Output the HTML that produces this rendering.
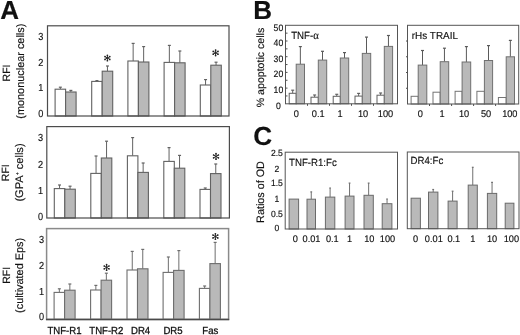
<!DOCTYPE html>
<html><head><meta charset="utf-8"><style>
html,body{margin:0;padding:0;background:#fff;}
body{width:520px;height:335px;overflow:hidden;}
svg{display:block;filter:blur(0.3px);}
text{font-family:"Liberation Sans",sans-serif;fill:#111;text-rendering:geometricPrecision;stroke:#111;stroke-width:0.15px;}
</style></head><body>
<svg width="520" height="335" viewBox="0 0 520 335">
<rect width="520" height="335" fill="#fff"/>
<text x="0.2" y="19.4" font-size="26" text-anchor="start" font-weight="bold" >A</text>
<line x1="60.35" y1="89.20" x2="60.35" y2="87.20" stroke="#626262" stroke-width="1"/>
<line x1="58.85" y1="87.20" x2="61.85" y2="87.20" stroke="#626262" stroke-width="1.2"/>
<rect x="55.10" y="89.20" width="10.50" height="26.80" fill="#fff" stroke="#626262" stroke-width="1.1"/>
<line x1="70.85" y1="92.00" x2="70.85" y2="90.40" stroke="#626262" stroke-width="1"/>
<line x1="69.35" y1="90.40" x2="72.35" y2="90.40" stroke="#626262" stroke-width="1.2"/>
<rect x="65.60" y="92.00" width="10.50" height="24.00" fill="#b9b9b9" stroke="#626262" stroke-width="1.1"/>
<line x1="96.95" y1="81.40" x2="96.95" y2="80.60" stroke="#626262" stroke-width="1"/>
<line x1="95.45" y1="80.60" x2="98.45" y2="80.60" stroke="#626262" stroke-width="1.2"/>
<rect x="91.70" y="81.40" width="10.50" height="34.60" fill="#fff" stroke="#626262" stroke-width="1.1"/>
<line x1="107.45" y1="71.20" x2="107.45" y2="66.00" stroke="#626262" stroke-width="1"/>
<line x1="105.95" y1="66.00" x2="108.95" y2="66.00" stroke="#626262" stroke-width="1.2"/>
<rect x="102.20" y="71.20" width="10.50" height="44.80" fill="#b9b9b9" stroke="#626262" stroke-width="1.1"/>
<line x1="133.15" y1="61.00" x2="133.15" y2="43.40" stroke="#626262" stroke-width="1"/>
<line x1="131.65" y1="43.40" x2="134.65" y2="43.40" stroke="#626262" stroke-width="1.2"/>
<rect x="127.90" y="61.00" width="10.50" height="55.00" fill="#fff" stroke="#626262" stroke-width="1.1"/>
<line x1="143.65" y1="62.00" x2="143.65" y2="46.60" stroke="#626262" stroke-width="1"/>
<line x1="142.15" y1="46.60" x2="145.15" y2="46.60" stroke="#626262" stroke-width="1.2"/>
<rect x="138.40" y="62.00" width="10.50" height="54.00" fill="#b9b9b9" stroke="#626262" stroke-width="1.1"/>
<line x1="169.35" y1="62.40" x2="169.35" y2="45.40" stroke="#626262" stroke-width="1"/>
<line x1="167.85" y1="45.40" x2="170.85" y2="45.40" stroke="#626262" stroke-width="1.2"/>
<rect x="164.10" y="62.40" width="10.50" height="53.60" fill="#fff" stroke="#626262" stroke-width="1.1"/>
<line x1="179.85" y1="62.80" x2="179.85" y2="51.00" stroke="#626262" stroke-width="1"/>
<line x1="178.35" y1="51.00" x2="181.35" y2="51.00" stroke="#626262" stroke-width="1.2"/>
<rect x="174.60" y="62.80" width="10.50" height="53.20" fill="#b9b9b9" stroke="#626262" stroke-width="1.1"/>
<line x1="205.55" y1="85.00" x2="205.55" y2="79.60" stroke="#626262" stroke-width="1"/>
<line x1="204.05" y1="79.60" x2="207.05" y2="79.60" stroke="#626262" stroke-width="1.2"/>
<rect x="200.30" y="85.00" width="10.50" height="31.00" fill="#fff" stroke="#626262" stroke-width="1.1"/>
<line x1="216.05" y1="65.20" x2="216.05" y2="62.20" stroke="#626262" stroke-width="1"/>
<line x1="214.55" y1="62.20" x2="217.55" y2="62.20" stroke="#626262" stroke-width="1.2"/>
<rect x="210.80" y="65.20" width="10.50" height="50.80" fill="#b9b9b9" stroke="#626262" stroke-width="1.1"/>
<rect x="47.5" y="25.8" width="181.50" height="90.20" fill="none" stroke="#4c4c4c" stroke-width="1.2"/>
<line x1="107.40" y1="55.00" x2="107.40" y2="61.00" stroke="#222" stroke-width="0.95"/>
<circle cx="107.40" cy="60.76" r="0.85" fill="#222"/>
<circle cx="107.40" cy="55.24" r="0.85" fill="#222"/>
<line x1="104.80" y1="56.50" x2="110.00" y2="59.50" stroke="#222" stroke-width="0.95"/>
<circle cx="109.79" cy="59.38" r="0.85" fill="#222"/>
<circle cx="105.01" cy="56.62" r="0.85" fill="#222"/>
<line x1="110.00" y1="56.50" x2="104.80" y2="59.50" stroke="#222" stroke-width="0.95"/>
<circle cx="105.01" cy="59.38" r="0.85" fill="#222"/>
<circle cx="109.79" cy="56.62" r="0.85" fill="#222"/>
<line x1="215.60" y1="49.80" x2="215.60" y2="55.80" stroke="#222" stroke-width="0.95"/>
<circle cx="215.60" cy="55.56" r="0.85" fill="#222"/>
<circle cx="215.60" cy="50.04" r="0.85" fill="#222"/>
<line x1="213.00" y1="51.30" x2="218.20" y2="54.30" stroke="#222" stroke-width="0.95"/>
<circle cx="217.99" cy="54.18" r="0.85" fill="#222"/>
<circle cx="213.21" cy="51.42" r="0.85" fill="#222"/>
<line x1="218.20" y1="51.30" x2="213.00" y2="54.30" stroke="#222" stroke-width="0.95"/>
<circle cx="213.21" cy="54.18" r="0.85" fill="#222"/>
<circle cx="217.99" cy="51.42" r="0.85" fill="#222"/>
<text x="0" y="0" transform="translate(43.4,39.6) scale(0.9,1)" font-size="10.2" text-anchor="end" font-weight="normal" >3</text>
<text x="0" y="0" transform="translate(43.4,65.8) scale(0.9,1)" font-size="10.2" text-anchor="end" font-weight="normal" >2</text>
<text x="0" y="0" transform="translate(43.4,91.2) scale(0.9,1)" font-size="10.2" text-anchor="end" font-weight="normal" >1</text>
<text x="0" y="0" transform="translate(43.4,116.6) scale(0.9,1)" font-size="10.2" text-anchor="end" font-weight="normal" >0</text>
<line x1="59.55" y1="188.60" x2="59.55" y2="185.00" stroke="#626262" stroke-width="1"/>
<line x1="58.05" y1="185.00" x2="61.05" y2="185.00" stroke="#626262" stroke-width="1.2"/>
<rect x="54.30" y="188.60" width="10.50" height="29.40" fill="#fff" stroke="#626262" stroke-width="1.1"/>
<line x1="70.05" y1="189.20" x2="70.05" y2="186.20" stroke="#626262" stroke-width="1"/>
<line x1="68.55" y1="186.20" x2="71.55" y2="186.20" stroke="#626262" stroke-width="1.2"/>
<rect x="64.80" y="189.20" width="10.50" height="28.80" fill="#b9b9b9" stroke="#626262" stroke-width="1.1"/>
<line x1="96.05" y1="173.40" x2="96.05" y2="156.00" stroke="#626262" stroke-width="1"/>
<line x1="94.55" y1="156.00" x2="97.55" y2="156.00" stroke="#626262" stroke-width="1.2"/>
<rect x="90.80" y="173.40" width="10.50" height="44.60" fill="#fff" stroke="#626262" stroke-width="1.1"/>
<line x1="106.55" y1="158.00" x2="106.55" y2="141.20" stroke="#626262" stroke-width="1"/>
<line x1="105.05" y1="141.20" x2="108.05" y2="141.20" stroke="#626262" stroke-width="1.2"/>
<rect x="101.30" y="158.00" width="10.50" height="60.00" fill="#b9b9b9" stroke="#626262" stroke-width="1.1"/>
<line x1="132.65" y1="155.80" x2="132.65" y2="137.60" stroke="#626262" stroke-width="1"/>
<line x1="131.15" y1="137.60" x2="134.15" y2="137.60" stroke="#626262" stroke-width="1.2"/>
<rect x="127.40" y="155.80" width="10.50" height="62.20" fill="#fff" stroke="#626262" stroke-width="1.1"/>
<line x1="143.15" y1="172.40" x2="143.15" y2="163.00" stroke="#626262" stroke-width="1"/>
<line x1="141.65" y1="163.00" x2="144.65" y2="163.00" stroke="#626262" stroke-width="1.2"/>
<rect x="137.90" y="172.40" width="10.50" height="45.60" fill="#b9b9b9" stroke="#626262" stroke-width="1.1"/>
<line x1="169.05" y1="161.40" x2="169.05" y2="147.60" stroke="#626262" stroke-width="1"/>
<line x1="167.55" y1="147.60" x2="170.55" y2="147.60" stroke="#626262" stroke-width="1.2"/>
<rect x="163.80" y="161.40" width="10.50" height="56.60" fill="#fff" stroke="#626262" stroke-width="1.1"/>
<line x1="179.55" y1="168.20" x2="179.55" y2="155.40" stroke="#626262" stroke-width="1"/>
<line x1="178.05" y1="155.40" x2="181.05" y2="155.40" stroke="#626262" stroke-width="1.2"/>
<rect x="174.30" y="168.20" width="10.50" height="49.80" fill="#b9b9b9" stroke="#626262" stroke-width="1.1"/>
<line x1="205.25" y1="189.40" x2="205.25" y2="188.00" stroke="#626262" stroke-width="1"/>
<line x1="203.75" y1="188.00" x2="206.75" y2="188.00" stroke="#626262" stroke-width="1.2"/>
<rect x="200.00" y="189.40" width="10.50" height="28.60" fill="#fff" stroke="#626262" stroke-width="1.1"/>
<line x1="215.75" y1="173.60" x2="215.75" y2="164.00" stroke="#626262" stroke-width="1"/>
<line x1="214.25" y1="164.00" x2="217.25" y2="164.00" stroke="#626262" stroke-width="1.2"/>
<rect x="210.50" y="173.60" width="10.50" height="44.40" fill="#b9b9b9" stroke="#626262" stroke-width="1.1"/>
<rect x="46.8" y="126.6" width="182.60" height="91.40" fill="none" stroke="#4c4c4c" stroke-width="1.2"/>
<line x1="216.00" y1="153.40" x2="216.00" y2="159.40" stroke="#222" stroke-width="0.95"/>
<circle cx="216.00" cy="159.16" r="0.85" fill="#222"/>
<circle cx="216.00" cy="153.64" r="0.85" fill="#222"/>
<line x1="213.40" y1="154.90" x2="218.60" y2="157.90" stroke="#222" stroke-width="0.95"/>
<circle cx="218.39" cy="157.78" r="0.85" fill="#222"/>
<circle cx="213.61" cy="155.02" r="0.85" fill="#222"/>
<line x1="218.60" y1="154.90" x2="213.40" y2="157.90" stroke="#222" stroke-width="0.95"/>
<circle cx="213.61" cy="157.78" r="0.85" fill="#222"/>
<circle cx="218.39" cy="155.02" r="0.85" fill="#222"/>
<text x="0" y="0" transform="translate(43.2,141.2) scale(0.9,1)" font-size="10.2" text-anchor="end" font-weight="normal" >3</text>
<text x="0" y="0" transform="translate(43.2,167.7) scale(0.9,1)" font-size="10.2" text-anchor="end" font-weight="normal" >2</text>
<text x="0" y="0" transform="translate(43.2,193.6) scale(0.9,1)" font-size="10.2" text-anchor="end" font-weight="normal" >1</text>
<text x="0" y="0" transform="translate(43.2,219.6) scale(0.9,1)" font-size="10.2" text-anchor="end" font-weight="normal" >0</text>
<line x1="59.35" y1="292.40" x2="59.35" y2="288.80" stroke="#6e6e6e" stroke-width="1"/>
<line x1="57.85" y1="288.80" x2="60.85" y2="288.80" stroke="#6e6e6e" stroke-width="1.2"/>
<rect x="54.10" y="292.40" width="10.50" height="27.00" fill="#fff" stroke="#6e6e6e" stroke-width="1.1"/>
<line x1="69.85" y1="290.20" x2="69.85" y2="284.00" stroke="#6e6e6e" stroke-width="1"/>
<line x1="68.35" y1="284.00" x2="71.35" y2="284.00" stroke="#6e6e6e" stroke-width="1.2"/>
<rect x="64.60" y="290.20" width="10.50" height="29.20" fill="#b9b9b9" stroke="#6e6e6e" stroke-width="1.1"/>
<line x1="95.85" y1="290.00" x2="95.85" y2="285.40" stroke="#6e6e6e" stroke-width="1"/>
<line x1="94.35" y1="285.40" x2="97.35" y2="285.40" stroke="#6e6e6e" stroke-width="1.2"/>
<rect x="90.60" y="290.00" width="10.50" height="29.40" fill="#fff" stroke="#6e6e6e" stroke-width="1.1"/>
<line x1="106.35" y1="280.20" x2="106.35" y2="273.20" stroke="#6e6e6e" stroke-width="1"/>
<line x1="104.85" y1="273.20" x2="107.85" y2="273.20" stroke="#6e6e6e" stroke-width="1.2"/>
<rect x="101.10" y="280.20" width="10.50" height="39.20" fill="#b9b9b9" stroke="#6e6e6e" stroke-width="1.1"/>
<line x1="132.25" y1="270.00" x2="132.25" y2="251.40" stroke="#6e6e6e" stroke-width="1"/>
<line x1="130.75" y1="251.40" x2="133.75" y2="251.40" stroke="#6e6e6e" stroke-width="1.2"/>
<rect x="127.00" y="270.00" width="10.50" height="49.40" fill="#fff" stroke="#6e6e6e" stroke-width="1.1"/>
<line x1="142.75" y1="268.80" x2="142.75" y2="249.40" stroke="#6e6e6e" stroke-width="1"/>
<line x1="141.25" y1="249.40" x2="144.25" y2="249.40" stroke="#6e6e6e" stroke-width="1.2"/>
<rect x="137.50" y="268.80" width="10.50" height="50.60" fill="#b9b9b9" stroke="#6e6e6e" stroke-width="1.1"/>
<line x1="168.35" y1="272.40" x2="168.35" y2="257.00" stroke="#6e6e6e" stroke-width="1"/>
<line x1="166.85" y1="257.00" x2="169.85" y2="257.00" stroke="#6e6e6e" stroke-width="1.2"/>
<rect x="163.10" y="272.40" width="10.50" height="47.00" fill="#fff" stroke="#6e6e6e" stroke-width="1.1"/>
<line x1="178.85" y1="270.40" x2="178.85" y2="250.60" stroke="#6e6e6e" stroke-width="1"/>
<line x1="177.35" y1="250.60" x2="180.35" y2="250.60" stroke="#6e6e6e" stroke-width="1.2"/>
<rect x="173.60" y="270.40" width="10.50" height="49.00" fill="#b9b9b9" stroke="#6e6e6e" stroke-width="1.1"/>
<line x1="204.65" y1="288.40" x2="204.65" y2="286.00" stroke="#6e6e6e" stroke-width="1"/>
<line x1="203.15" y1="286.00" x2="206.15" y2="286.00" stroke="#6e6e6e" stroke-width="1.2"/>
<rect x="199.40" y="288.40" width="10.50" height="31.00" fill="#fff" stroke="#6e6e6e" stroke-width="1.1"/>
<line x1="215.15" y1="263.60" x2="215.15" y2="242.40" stroke="#6e6e6e" stroke-width="1"/>
<line x1="213.65" y1="242.40" x2="216.65" y2="242.40" stroke="#6e6e6e" stroke-width="1.2"/>
<rect x="209.90" y="263.60" width="10.50" height="55.80" fill="#b9b9b9" stroke="#6e6e6e" stroke-width="1.1"/>
<rect x="46.6" y="228.6" width="182.00" height="90.80" fill="none" stroke="#8a8a8a" stroke-width="1.5"/>
<line x1="46.0" y1="319.5" x2="229.2" y2="319.5" stroke="#4a4a4a" stroke-width="1.5"/>
<line x1="106.60" y1="264.40" x2="106.60" y2="270.40" stroke="#222" stroke-width="0.95"/>
<circle cx="106.60" cy="270.16" r="0.85" fill="#222"/>
<circle cx="106.60" cy="264.64" r="0.85" fill="#222"/>
<line x1="104.00" y1="265.90" x2="109.20" y2="268.90" stroke="#222" stroke-width="0.95"/>
<circle cx="108.99" cy="268.78" r="0.85" fill="#222"/>
<circle cx="104.21" cy="266.02" r="0.85" fill="#222"/>
<line x1="109.20" y1="265.90" x2="104.00" y2="268.90" stroke="#222" stroke-width="0.95"/>
<circle cx="104.21" cy="268.78" r="0.85" fill="#222"/>
<circle cx="108.99" cy="266.02" r="0.85" fill="#222"/>
<line x1="215.40" y1="233.50" x2="215.40" y2="239.50" stroke="#222" stroke-width="0.95"/>
<circle cx="215.40" cy="239.26" r="0.85" fill="#222"/>
<circle cx="215.40" cy="233.74" r="0.85" fill="#222"/>
<line x1="212.80" y1="235.00" x2="218.00" y2="238.00" stroke="#222" stroke-width="0.95"/>
<circle cx="217.79" cy="237.88" r="0.85" fill="#222"/>
<circle cx="213.01" cy="235.12" r="0.85" fill="#222"/>
<line x1="218.00" y1="235.00" x2="212.80" y2="238.00" stroke="#222" stroke-width="0.95"/>
<circle cx="213.01" cy="237.88" r="0.85" fill="#222"/>
<circle cx="217.79" cy="235.12" r="0.85" fill="#222"/>
<text x="0" y="0" transform="translate(44.0,243.3) scale(0.9,1)" font-size="10.2" text-anchor="end" font-weight="normal" >3</text>
<text x="0" y="0" transform="translate(44.0,268.7) scale(0.9,1)" font-size="10.2" text-anchor="end" font-weight="normal" >2</text>
<text x="0" y="0" transform="translate(44.0,294.6) scale(0.9,1)" font-size="10.2" text-anchor="end" font-weight="normal" >1</text>
<text x="0" y="0" transform="translate(44.0,320.2) scale(0.9,1)" font-size="10.2" text-anchor="end" font-weight="normal" >0</text>
<text x="0" y="0" font-size="10.5" text-anchor="middle" transform="translate(10.2,73.0) rotate(-90)" >RFI</text>
<text x="0" y="0" font-size="10.9" text-anchor="middle" transform="translate(23.9,71.2) rotate(-90)" >(mononuclear cells)</text>
<text x="0" y="0" font-size="10.5" text-anchor="middle" transform="translate(9.3,172.7) rotate(-90)" >RFI</text>
<text x="0" y="0" font-size="11.1" text-anchor="middle" transform="translate(23.0,172.5) rotate(-90)" >(GPA<tspan font-size="5" dy="-4.5">+</tspan><tspan dy="4.5"> cells)</tspan></text>
<text x="0" y="0" font-size="10.5" text-anchor="middle" transform="translate(9.5,275.3) rotate(-90)" >RFI</text>
<text x="0" y="0" font-size="10.9" text-anchor="middle" transform="translate(23.4,275.4) rotate(-90)" >(cultivated Eps)</text>
<text x="0" y="0" transform="translate(64.5,334.2) scale(0.93,1)" font-size="10.3" text-anchor="middle" font-weight="normal" style="stroke-width:0.3px">TNF-R1</text>
<text x="0" y="0" transform="translate(106.3,334.2) scale(0.93,1)" font-size="10.3" text-anchor="middle" font-weight="normal" style="stroke-width:0.3px">TNF-R2</text>
<text x="0" y="0" transform="translate(140.6,334.2) scale(0.93,1)" font-size="10.3" text-anchor="middle" font-weight="normal" style="stroke-width:0.3px">DR4</text>
<text x="0" y="0" transform="translate(173.0,334.2) scale(0.93,1)" font-size="10.3" text-anchor="middle" font-weight="normal" style="stroke-width:0.3px">DR5</text>
<text x="0" y="0" transform="translate(210.3,334.2) scale(0.93,1)" font-size="10.3" text-anchor="middle" font-weight="normal" style="stroke-width:0.3px">Fas</text>
<text x="253.3" y="19.3" font-size="26" text-anchor="start" font-weight="bold" >B</text>
<line x1="292.70" y1="93.30" x2="292.70" y2="90.20" stroke="#606060" stroke-width="1"/>
<line x1="291.20" y1="90.20" x2="294.20" y2="90.20" stroke="#606060" stroke-width="1.2"/>
<rect x="289.20" y="93.30" width="7.00" height="10.50" fill="#fff" stroke="#606060" stroke-width="1.0"/>
<line x1="300.35" y1="64.20" x2="300.35" y2="46.60" stroke="#5a5a5a" stroke-width="1"/>
<line x1="298.85" y1="46.60" x2="301.85" y2="46.60" stroke="#5a5a5a" stroke-width="1.2"/>
<rect x="296.20" y="64.20" width="8.30" height="39.60" fill="#b9b9b9" stroke="#707070" stroke-width="1.0"/>
<line x1="314.65" y1="97.20" x2="314.65" y2="95.00" stroke="#606060" stroke-width="1"/>
<line x1="313.15" y1="95.00" x2="316.15" y2="95.00" stroke="#606060" stroke-width="1.2"/>
<rect x="311.00" y="97.20" width="7.30" height="6.60" fill="#fff" stroke="#606060" stroke-width="1.0"/>
<line x1="322.50" y1="60.10" x2="322.50" y2="51.30" stroke="#5a5a5a" stroke-width="1"/>
<line x1="321.00" y1="51.30" x2="324.00" y2="51.30" stroke="#5a5a5a" stroke-width="1.2"/>
<rect x="318.30" y="60.10" width="8.40" height="43.70" fill="#b9b9b9" stroke="#707070" stroke-width="1.0"/>
<line x1="336.75" y1="96.30" x2="336.75" y2="94.30" stroke="#606060" stroke-width="1"/>
<line x1="335.25" y1="94.30" x2="338.25" y2="94.30" stroke="#606060" stroke-width="1.2"/>
<rect x="333.20" y="96.30" width="7.10" height="7.50" fill="#fff" stroke="#606060" stroke-width="1.0"/>
<line x1="344.50" y1="58.00" x2="344.50" y2="52.60" stroke="#5a5a5a" stroke-width="1"/>
<line x1="343.00" y1="52.60" x2="346.00" y2="52.60" stroke="#5a5a5a" stroke-width="1.2"/>
<rect x="340.30" y="58.00" width="8.40" height="45.80" fill="#b9b9b9" stroke="#707070" stroke-width="1.0"/>
<line x1="358.65" y1="96.10" x2="358.65" y2="93.40" stroke="#606060" stroke-width="1"/>
<line x1="357.15" y1="93.40" x2="360.15" y2="93.40" stroke="#606060" stroke-width="1.2"/>
<rect x="355.00" y="96.10" width="7.30" height="7.70" fill="#fff" stroke="#606060" stroke-width="1.0"/>
<line x1="366.50" y1="53.40" x2="366.50" y2="37.10" stroke="#5a5a5a" stroke-width="1"/>
<line x1="365.00" y1="37.10" x2="368.00" y2="37.10" stroke="#5a5a5a" stroke-width="1.2"/>
<rect x="362.30" y="53.40" width="8.40" height="50.40" fill="#b9b9b9" stroke="#707070" stroke-width="1.0"/>
<line x1="380.65" y1="95.20" x2="380.65" y2="93.00" stroke="#606060" stroke-width="1"/>
<line x1="379.15" y1="93.00" x2="382.15" y2="93.00" stroke="#606060" stroke-width="1.2"/>
<rect x="377.00" y="95.20" width="7.30" height="8.60" fill="#fff" stroke="#606060" stroke-width="1.0"/>
<line x1="388.45" y1="46.40" x2="388.45" y2="35.50" stroke="#5a5a5a" stroke-width="1"/>
<line x1="386.95" y1="35.50" x2="389.95" y2="35.50" stroke="#5a5a5a" stroke-width="1.2"/>
<rect x="384.30" y="46.40" width="8.30" height="57.40" fill="#b9b9b9" stroke="#707070" stroke-width="1.0"/>
<rect x="285.5" y="25.3" width="112.00" height="78.50" fill="none" stroke="#555" stroke-width="1.0"/>
<rect x="411.10" y="96.30" width="7.10" height="7.70" fill="#fff" stroke="#747474" stroke-width="1.0"/>
<line x1="422.50" y1="65.10" x2="422.50" y2="50.50" stroke="#5a5a5a" stroke-width="1"/>
<line x1="421.00" y1="50.50" x2="424.00" y2="50.50" stroke="#5a5a5a" stroke-width="1.2"/>
<rect x="418.20" y="65.10" width="8.60" height="38.90" fill="#b9b9b9" stroke="#707070" stroke-width="1.0"/>
<rect x="433.00" y="92.20" width="7.20" height="11.80" fill="#fff" stroke="#747474" stroke-width="1.0"/>
<line x1="444.45" y1="61.70" x2="444.45" y2="48.20" stroke="#5a5a5a" stroke-width="1"/>
<line x1="442.95" y1="48.20" x2="445.95" y2="48.20" stroke="#5a5a5a" stroke-width="1.2"/>
<rect x="440.20" y="61.70" width="8.50" height="42.30" fill="#b9b9b9" stroke="#707070" stroke-width="1.0"/>
<rect x="455.10" y="91.30" width="7.00" height="12.70" fill="#fff" stroke="#747474" stroke-width="1.0"/>
<line x1="466.40" y1="62.00" x2="466.40" y2="46.60" stroke="#5a5a5a" stroke-width="1"/>
<line x1="464.90" y1="46.60" x2="467.90" y2="46.60" stroke="#5a5a5a" stroke-width="1.2"/>
<rect x="462.10" y="62.00" width="8.60" height="42.00" fill="#b9b9b9" stroke="#707070" stroke-width="1.0"/>
<rect x="476.90" y="91.30" width="7.50" height="12.70" fill="#fff" stroke="#747474" stroke-width="1.0"/>
<line x1="488.50" y1="60.50" x2="488.50" y2="45.60" stroke="#5a5a5a" stroke-width="1"/>
<line x1="487.00" y1="45.60" x2="490.00" y2="45.60" stroke="#5a5a5a" stroke-width="1.2"/>
<rect x="484.40" y="60.50" width="8.20" height="43.50" fill="#b9b9b9" stroke="#707070" stroke-width="1.0"/>
<rect x="498.40" y="97.50" width="7.80" height="6.50" fill="#fff" stroke="#747474" stroke-width="1.0"/>
<line x1="510.35" y1="56.80" x2="510.35" y2="40.40" stroke="#5a5a5a" stroke-width="1"/>
<line x1="508.85" y1="40.40" x2="511.85" y2="40.40" stroke="#5a5a5a" stroke-width="1.2"/>
<rect x="506.20" y="56.80" width="8.30" height="47.20" fill="#b9b9b9" stroke="#707070" stroke-width="1.0"/>
<rect x="407.5" y="25.3" width="111.20" height="78.70" fill="none" stroke="#555" stroke-width="1.0"/>
<line x1="285.5" y1="33.15" x2="287.5" y2="33.15" stroke="#505050" stroke-width="1"/>
<line x1="285.5" y1="41.00" x2="287.5" y2="41.00" stroke="#505050" stroke-width="1"/>
<line x1="285.5" y1="48.85" x2="287.5" y2="48.85" stroke="#505050" stroke-width="1"/>
<line x1="285.5" y1="56.70" x2="287.5" y2="56.70" stroke="#505050" stroke-width="1"/>
<line x1="285.5" y1="64.55" x2="287.5" y2="64.55" stroke="#505050" stroke-width="1"/>
<line x1="285.5" y1="72.40" x2="287.5" y2="72.40" stroke="#505050" stroke-width="1"/>
<line x1="285.5" y1="80.25" x2="287.5" y2="80.25" stroke="#505050" stroke-width="1"/>
<line x1="285.5" y1="88.10" x2="287.5" y2="88.10" stroke="#505050" stroke-width="1"/>
<line x1="285.5" y1="95.95" x2="287.5" y2="95.95" stroke="#505050" stroke-width="1"/>
<line x1="307.50" y1="103.8" x2="307.50" y2="105.8" stroke="#505050" stroke-width="1"/>
<line x1="329.50" y1="103.8" x2="329.50" y2="105.8" stroke="#505050" stroke-width="1"/>
<line x1="351.50" y1="103.8" x2="351.50" y2="105.8" stroke="#505050" stroke-width="1"/>
<line x1="373.50" y1="103.8" x2="373.50" y2="105.8" stroke="#505050" stroke-width="1"/>
<line x1="406.0" y1="41.04" x2="407.5" y2="41.04" stroke="#505050" stroke-width="1"/>
<line x1="406.0" y1="56.78" x2="407.5" y2="56.78" stroke="#505050" stroke-width="1"/>
<line x1="406.0" y1="72.52" x2="407.5" y2="72.52" stroke="#505050" stroke-width="1"/>
<line x1="406.0" y1="88.26" x2="407.5" y2="88.26" stroke="#505050" stroke-width="1"/>
<line x1="429.50" y1="104.0" x2="429.50" y2="106.0" stroke="#505050" stroke-width="1"/>
<line x1="451.60" y1="104.0" x2="451.60" y2="106.0" stroke="#505050" stroke-width="1"/>
<line x1="473.60" y1="104.0" x2="473.60" y2="106.0" stroke="#505050" stroke-width="1"/>
<line x1="495.60" y1="104.0" x2="495.60" y2="106.0" stroke="#505050" stroke-width="1"/>
<text x="0" y="0" transform="translate(278.4,30.5) scale(0.93,1)" font-size="9.3" text-anchor="middle" font-weight="normal" >50</text>
<text x="0" y="0" transform="translate(278.4,45.95) scale(0.93,1)" font-size="9.3" text-anchor="middle" font-weight="normal" >40</text>
<text x="0" y="0" transform="translate(278.4,61.7) scale(0.93,1)" font-size="9.3" text-anchor="middle" font-weight="normal" >30</text>
<text x="0" y="0" transform="translate(278.4,77.4) scale(0.93,1)" font-size="9.3" text-anchor="middle" font-weight="normal" >20</text>
<text x="0" y="0" transform="translate(278.4,93.1) scale(0.93,1)" font-size="9.3" text-anchor="middle" font-weight="normal" >10</text>
<text x="0" y="0" transform="translate(278.4,108.7) scale(0.93,1)" font-size="9.3" text-anchor="middle" font-weight="normal" >0</text>
<text x="0" y="0" font-size="10.6" text-anchor="middle" transform="translate(263.6,67.5) rotate(-90)" >% apoptotic cells</text>
<text x="0" y="0" transform="translate(291.2,38.6) scale(0.93,1)" font-size="10.4" text-anchor="start" font-weight="normal" >TNF-<tspan font-family="Liberation Serif" font-size="11.5">&#945;</tspan></text>
<text x="0" y="0" transform="translate(411.8,39.1) scale(0.975,1)" font-size="10.2" text-anchor="start" font-weight="normal" >rHs TRAIL</text>
<text x="0" y="0" transform="translate(296.4,117.2) scale(0.95,1)" font-size="9.7" text-anchor="middle" font-weight="normal" >0</text>
<text x="0" y="0" transform="translate(318.2,117.2) scale(0.95,1)" font-size="9.7" text-anchor="middle" font-weight="normal" >0.1</text>
<text x="0" y="0" transform="translate(340.0,117.2) scale(0.95,1)" font-size="9.7" text-anchor="middle" font-weight="normal" >1</text>
<text x="0" y="0" transform="translate(363.0,117.2) scale(0.95,1)" font-size="9.7" text-anchor="middle" font-weight="normal" >10</text>
<text x="0" y="0" transform="translate(385.5,117.2) scale(0.95,1)" font-size="9.7" text-anchor="middle" font-weight="normal" >100</text>
<text x="0" y="0" transform="translate(420.4,117.2) scale(0.95,1)" font-size="9.7" text-anchor="middle" font-weight="normal" >0</text>
<text x="0" y="0" transform="translate(442.0,117.2) scale(0.95,1)" font-size="9.7" text-anchor="middle" font-weight="normal" >1</text>
<text x="0" y="0" transform="translate(464.0,117.2) scale(0.95,1)" font-size="9.7" text-anchor="middle" font-weight="normal" >10</text>
<text x="0" y="0" transform="translate(486.1,117.2) scale(0.95,1)" font-size="9.7" text-anchor="middle" font-weight="normal" >50</text>
<text x="0" y="0" transform="translate(509.8,117.2) scale(0.95,1)" font-size="9.7" text-anchor="middle" font-weight="normal" >100</text>
<text x="253.3" y="145.3" font-size="26" text-anchor="start" font-weight="bold" >C</text>
<rect x="289.10" y="199.10" width="9.50" height="29.90" fill="#b9b9b9" stroke="#6a6a6a" stroke-width="1.0"/>
<line x1="311.25" y1="199.20" x2="311.25" y2="191.90" stroke="#707070" stroke-width="1"/>
<line x1="310.35" y1="191.90" x2="312.15" y2="191.90" stroke="#707070" stroke-width="1.2"/>
<rect x="307.00" y="199.20" width="8.50" height="29.80" fill="#b9b9b9" stroke="#6a6a6a" stroke-width="1.0"/>
<line x1="330.10" y1="197.10" x2="330.10" y2="188.00" stroke="#707070" stroke-width="1"/>
<line x1="329.20" y1="188.00" x2="331.00" y2="188.00" stroke="#707070" stroke-width="1.2"/>
<rect x="325.40" y="197.10" width="9.40" height="31.90" fill="#b9b9b9" stroke="#6a6a6a" stroke-width="1.0"/>
<line x1="349.55" y1="196.10" x2="349.55" y2="183.10" stroke="#707070" stroke-width="1"/>
<line x1="348.65" y1="183.10" x2="350.45" y2="183.10" stroke="#707070" stroke-width="1.2"/>
<rect x="345.10" y="196.10" width="8.90" height="32.90" fill="#b9b9b9" stroke="#6a6a6a" stroke-width="1.0"/>
<line x1="368.65" y1="195.30" x2="368.65" y2="183.10" stroke="#707070" stroke-width="1"/>
<line x1="367.75" y1="183.10" x2="369.55" y2="183.10" stroke="#707070" stroke-width="1.2"/>
<rect x="364.00" y="195.30" width="9.30" height="33.70" fill="#b9b9b9" stroke="#6a6a6a" stroke-width="1.0"/>
<line x1="387.05" y1="203.70" x2="387.05" y2="199.00" stroke="#707070" stroke-width="1"/>
<line x1="386.15" y1="199.00" x2="387.95" y2="199.00" stroke="#707070" stroke-width="1.2"/>
<rect x="382.20" y="203.70" width="9.70" height="25.30" fill="#b9b9b9" stroke="#6a6a6a" stroke-width="1.0"/>
<rect x="285.2" y="152.2" width="112.30" height="76.80" fill="none" stroke="#555" stroke-width="1.0"/>
<rect x="411.10" y="198.20" width="9.30" height="30.50" fill="#b9b9b9" stroke="#6a6a6a" stroke-width="1.0"/>
<line x1="433.20" y1="192.10" x2="433.20" y2="189.50" stroke="#707070" stroke-width="1"/>
<line x1="432.30" y1="189.50" x2="434.10" y2="189.50" stroke="#707070" stroke-width="1.2"/>
<rect x="428.50" y="192.10" width="9.40" height="36.60" fill="#b9b9b9" stroke="#6a6a6a" stroke-width="1.0"/>
<line x1="452.60" y1="201.10" x2="452.60" y2="191.20" stroke="#707070" stroke-width="1"/>
<line x1="451.70" y1="191.20" x2="453.50" y2="191.20" stroke="#707070" stroke-width="1.2"/>
<rect x="448.10" y="201.10" width="9.00" height="27.60" fill="#b9b9b9" stroke="#6a6a6a" stroke-width="1.0"/>
<line x1="472.75" y1="185.10" x2="472.75" y2="167.30" stroke="#707070" stroke-width="1"/>
<line x1="471.85" y1="167.30" x2="473.65" y2="167.30" stroke="#707070" stroke-width="1.2"/>
<rect x="468.20" y="185.10" width="9.10" height="43.60" fill="#b9b9b9" stroke="#6a6a6a" stroke-width="1.0"/>
<line x1="492.05" y1="193.40" x2="492.05" y2="182.30" stroke="#707070" stroke-width="1"/>
<line x1="491.15" y1="182.30" x2="492.95" y2="182.30" stroke="#707070" stroke-width="1.2"/>
<rect x="487.40" y="193.40" width="9.30" height="35.30" fill="#b9b9b9" stroke="#6a6a6a" stroke-width="1.0"/>
<rect x="505.20" y="203.20" width="8.70" height="25.50" fill="#b9b9b9" stroke="#6a6a6a" stroke-width="1.0"/>
<rect x="407.3" y="152.0" width="111.70" height="76.70" fill="none" stroke="#555" stroke-width="1.0"/>
<text x="0" y="0" transform="translate(276.9,156.4) scale(0.95,1)" font-size="9.0" text-anchor="middle" font-weight="normal" >2.5</text>
<text x="0" y="0" transform="translate(276.9,171.6) scale(0.95,1)" font-size="9.0" text-anchor="middle" font-weight="normal" >2</text>
<text x="0" y="0" transform="translate(276.9,186.45) scale(0.95,1)" font-size="9.0" text-anchor="middle" font-weight="normal" >1.5</text>
<text x="0" y="0" transform="translate(276.9,201.85) scale(0.95,1)" font-size="9.0" text-anchor="middle" font-weight="normal" >1</text>
<text x="0" y="0" transform="translate(276.9,216.65) scale(0.95,1)" font-size="9.0" text-anchor="middle" font-weight="normal" >0.5</text>
<text x="0" y="0" transform="translate(276.9,230.95) scale(0.95,1)" font-size="9.0" text-anchor="middle" font-weight="normal" >0</text>
<text x="0" y="0" font-size="10.8" text-anchor="middle" transform="translate(264.0,192.0) rotate(-90)" >Ratios of OD</text>
<text x="0" y="0" transform="translate(289.0,166.2) scale(0.93,1)" font-size="10.4" text-anchor="start" font-weight="normal" >TNF-R1:Fc</text>
<text x="0" y="0" transform="translate(410.5,164.0) scale(0.93,1)" font-size="10.4" text-anchor="start" font-weight="normal" >DR4:Fc</text>
<text x="0" y="0" transform="translate(295.2,242.2) scale(0.96,1)" font-size="9.6" text-anchor="middle" font-weight="normal" >0</text>
<text x="0" y="0" transform="translate(311.5,242.2) scale(0.96,1)" font-size="9.6" text-anchor="middle" font-weight="normal" >0.01</text>
<text x="0" y="0" transform="translate(332.3,242.2) scale(0.96,1)" font-size="9.6" text-anchor="middle" font-weight="normal" >0.1</text>
<text x="0" y="0" transform="translate(349.6,242.2) scale(0.96,1)" font-size="9.6" text-anchor="middle" font-weight="normal" >1</text>
<text x="0" y="0" transform="translate(369.3,242.2) scale(0.96,1)" font-size="9.6" text-anchor="middle" font-weight="normal" >10</text>
<text x="0" y="0" transform="translate(387.5,242.2) scale(0.96,1)" font-size="9.6" text-anchor="middle" font-weight="normal" >100</text>
<text x="0" y="0" transform="translate(415.6,242.1) scale(0.96,1)" font-size="9.6" text-anchor="middle" font-weight="normal" >0</text>
<text x="0" y="0" transform="translate(433.8,242.1) scale(0.96,1)" font-size="9.6" text-anchor="middle" font-weight="normal" >0.01</text>
<text x="0" y="0" transform="translate(453.8,242.1) scale(0.96,1)" font-size="9.6" text-anchor="middle" font-weight="normal" >0.1</text>
<text x="0" y="0" transform="translate(472.8,242.1) scale(0.96,1)" font-size="9.6" text-anchor="middle" font-weight="normal" >1</text>
<text x="0" y="0" transform="translate(492.0,242.1) scale(0.96,1)" font-size="9.6" text-anchor="middle" font-weight="normal" >10</text>
<text x="0" y="0" transform="translate(511.4,242.1) scale(0.96,1)" font-size="9.6" text-anchor="middle" font-weight="normal" >100</text>
</svg>
</body></html>
